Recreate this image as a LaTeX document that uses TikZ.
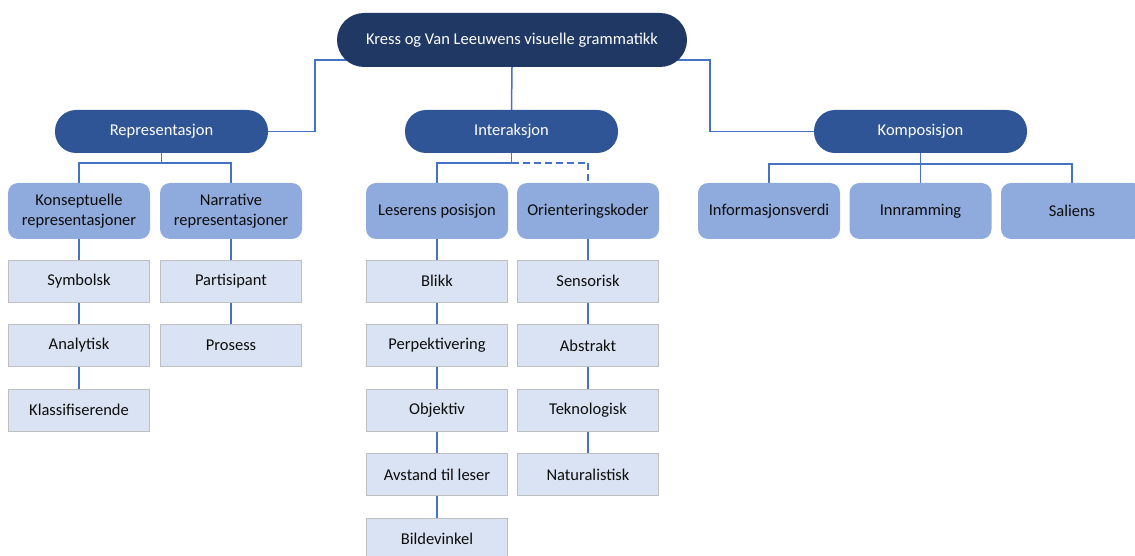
\documentclass[tikz,border=0pt]{standalone}
\usepackage{fontspec}
\setmainfont{Carlito}
\usetikzlibrary{calc,backgrounds}
\definecolor{navy}{HTML}{1F3864}
\definecolor{catblue}{HTML}{2F5597}
\definecolor{subblue}{HTML}{8FAADC}
\definecolor{leafblue}{HTML}{DAE3F3}
\definecolor{linkblue}{HTML}{4472C4}
\definecolor{leafedge}{HTML}{BFBFBF}
\definecolor{ink}{HTML}{0D0D0D}
\tikzset{
  base/.style={outer sep=0pt, inner sep=2pt, align=center, font=\fontsize{16.5}{19.5}\selectfont},
  rootbox/.style={base, fill=navy, text=white, rounded corners=27pt, minimum width=350pt, minimum height=54pt},
  catbox/.style={base, fill=catblue, text=white, rounded corners=21pt, minimum width=213pt, minimum height=43pt},
  subbox/.style={base, fill=subblue, text=ink, rounded corners=10pt, minimum width=142pt, minimum height=56pt},
  leafbox/.style={base, fill=leafblue, draw=leafedge, line width=0.8pt, text=ink, minimum width=141pt, minimum height=42pt},
  link/.style={draw=linkblue, line width=1.5pt},
}
\begin{document}
\begin{tikzpicture}[x=1pt,y=-1pt]
\useasboundingbox (0,0) rectangle (1135,556);
\clip (0,0) rectangle (1135,556);

% root and main categories
\node[rootbox] (top) at (512,40) {Kress og Van Leeuwens visuelle grammatikk};
\node[catbox] (rep) at (161.5,131.5) {Representasjon};
\node[catbox] (int) at (511.5,131.5) {Interaksjon};
\node[catbox] (kom) at (920.5,131.5) {Komposisjon};

% second level
\node[subbox] (kon) at (79,211) {Konseptuelle\\representasjoner};
\node[subbox] (nar) at (231,211) {Narrative\\representasjoner};
\node[subbox] (les) at (437,211) {Leserens posisjon};
\node[subbox] (ori) at (588,211) {Orienteringskoder};
\node[subbox] (inf) at (769,211) {Informasjonsverdi};
\node[subbox] (inn) at (920.5,211) {Innramming};
\node[subbox] (sal) at (1072,211) {Saliens};

% leaves: conceptual
\node[leafbox] (sym) at (79,281) {Symbolsk};
\node[leafbox] (ana) at (79,345.5) {Analytisk};
\node[leafbox] (kla) at (79,410) {Klassifiserende};
% leaves: narrative
\node[leafbox] (par) at (231,281) {Partisipant};
\node[leafbox] (pro) at (231,345.5) {Prosess};
% leaves: reader position
\node[leafbox] (bli) at (437,281) {Blikk};
\node[leafbox] (per) at (437,345.5) {Perpektivering};
\node[leafbox] (obj) at (437,410) {Objektiv};
\node[leafbox] (avs) at (437,474.5) {Avstand til leser};
\node[leafbox] (bil) at (437,539) {Bildevinkel};
% leaves: modality codes
\node[leafbox] (sen) at (588,281) {Sensorisk};
\node[leafbox] (abs) at (588,345.5) {Abstrakt};
\node[leafbox] (tek) at (588,410) {Teknologisk};
\node[leafbox] (nat) at (588,474.5) {Naturalistisk};

\begin{pgfonlayer}{background}
  % root to categories
  \draw[link] ($(top.center)+(0,20)$) -| ($(rep.east)+(47,0)$) -- (rep.east);
  \draw[link] ($(top.center)+(0,20)$) -| ($(kom.west)+(-104,0)$) -- (kom.west);
  \draw[link] (top.south) -- (int.north);
  % category buses
  \draw[link] (rep.south) -- ++(0,10) -| (kon.north);
  \draw[link] ($(rep.south)+(0,10)$) -| (nar.north);
  \draw[link] (int.south) -- ++(0,10) -| (les.north);
  \draw[link, dashed, dash pattern=on 7pt off 4pt] ($(int.south)+(0,10)$) -| (ori.north);
  \draw[link] (kom.south) -- (inn.north);
  \draw[link] ($(kom.south)+(0,11)$) -| (inf.north);
  \draw[link] ($(kom.south)+(0,11)$) -| (sal.north);
  % vertical chains
  \draw[link] (kon) -- (sym) -- (ana) -- (kla);
  \draw[link] (nar) -- (par) -- (pro);
  \draw[link] (les) -- (bli) -- (per) -- (obj) -- (avs) -- (bil);
  \draw[link] (ori) -- (sen) -- (abs) -- (tek) -- (nat);
\end{pgfonlayer}
\end{tikzpicture}
\end{document}
